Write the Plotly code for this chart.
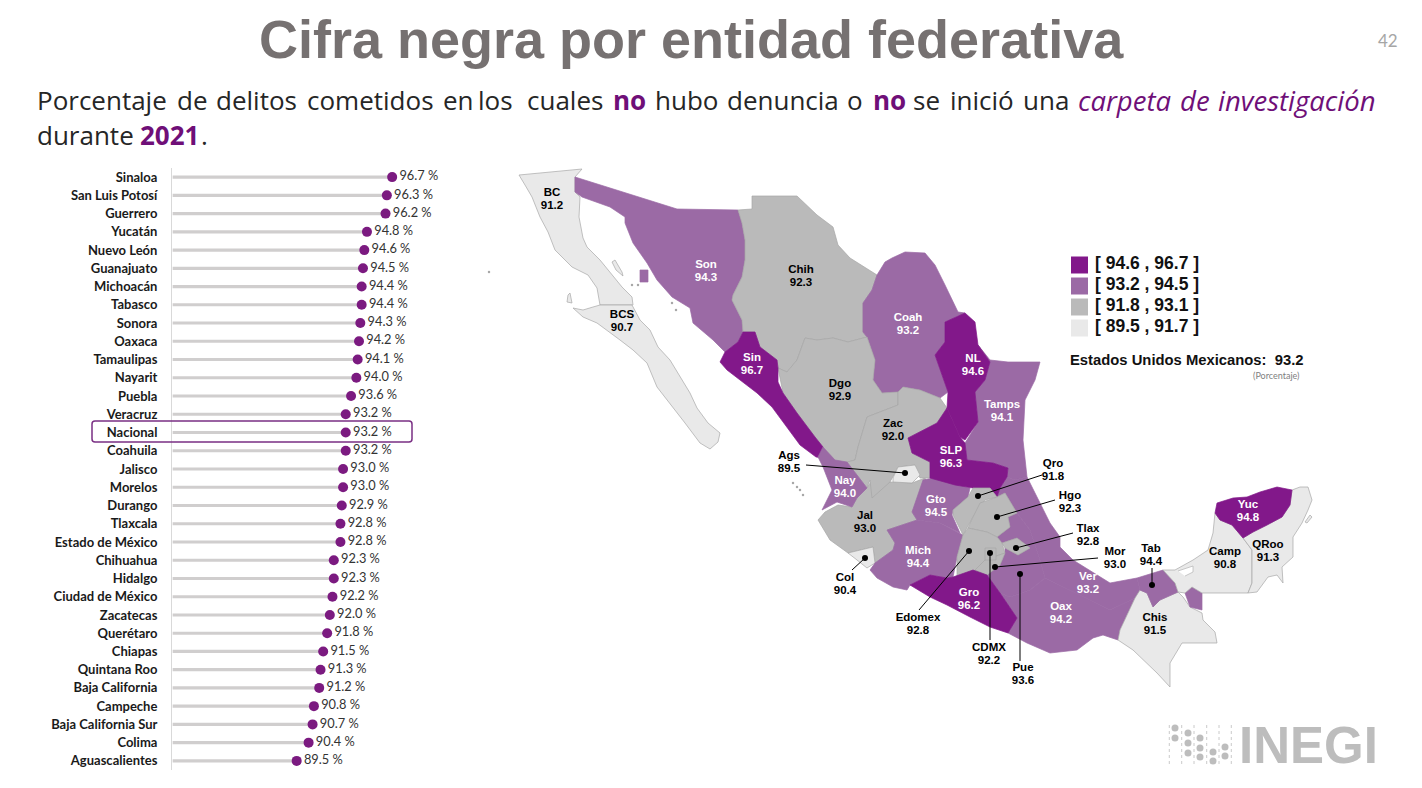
import plotly.graph_objects as go

# Lollipop chart values
ENTIDADES = ['Sinaloa', 'San Luis Potosí', 'Guerrero', 'Yucatán', 'Nuevo León', 'Guanajuato', 'Michoacán',
             'Tabasco', 'Sonora', 'Oaxaca', 'Tamaulipas', 'Nayarit', 'Puebla', 'Veracruz', 'Nacional',
             'Coahuila', 'Jalisco', 'Morelos', 'Durango', 'Tlaxcala', 'Estado de México', 'Chihuahua',
             'Hidalgo', 'Ciudad de México', 'Zacatecas', 'Querétaro', 'Chiapas', 'Quintana Roo',
             'Baja California', 'Campeche', 'Baja California Sur', 'Colima', 'Aguascalientes']
PORCENTAJES = [96.7, 96.3, 96.2, 94.8, 94.6, 94.5, 94.4, 94.4, 94.3, 94.2, 94.1, 94.0, 93.6, 93.2, 93.2,
               93.2, 93.0, 93.0, 92.9, 92.8, 92.8, 92.3, 92.3, 92.2, 92.0, 91.8, 91.5, 91.3, 91.2, 90.8,
               90.7, 90.4, 89.5]

# State outlines
BC = [(519,175),(582,169),(575,177),(575,192),(580,197),(579,217),(583,238),(587,247),(600,260),(612,275),
      (622,287),(632,297),(633,305),(600,305),(597,288),(588,275),(572,267),(555,250),(548,232),(540,217),
      (532,197),(525,185)]
BCS = [(573,308),(583,310),(593,307),(600,305),(632,305),(640,320),(650,330),(658,347),(670,360),(680,377),
       (690,393),(697,408),(708,423),(720,433),(718,442),(710,449),(700,443),(685,423),(673,408),(657,387),
       (647,363),(633,350),(620,340),(610,333),(597,323),(583,317)]
SON = [(575,177),(677,209),(738,210),(742,223),(745,240),(745,260),(742,277),(733,295),(732,300),(742,320),
       (743,332),(738,342),(725,352),(713,340),(693,323),(690,308),(672,297),(657,280),(647,263),(633,243),
       (625,223),(625,217),(610,207),(597,202),(582,197),(575,192)]
CHIH = [(738,210),(752,209),(752,196),(797,196),(817,215),(833,227),(838,245),(850,258),(877,275),(872,290),
        (863,303),(863,332),(867,337),(848,342),(833,338),(817,340),(805,338),(797,360),(787,372),(778,368),
        (777,360),(760,347),(755,332),(743,332),(742,320),(732,300),(733,295),(742,277),(745,260),(745,240),
        (742,223)]
COAH = [(877,275),(885,262),(892,258),(905,252),(925,253),(935,265),(945,285),(958,312),(965,313),(945,322),
        (945,342),(935,355),(948,392),(940,398),(920,390),(903,387),(898,392),(882,393),(873,380),(875,360),
        (867,337),(863,332),(863,303),(872,290)]
SIN = [(725,352),(738,342),(743,332),(755,332),(760,347),(777,360),(778,368),(778,382),(783,393),(797,413),
       (815,437),(823,447),(823,458),(816,457),(800,445),(787,427),(772,407),(757,393),(740,380),(727,370),
       (720,362)]
DGO = [(778,368),(787,372),(797,360),(805,338),(817,340),(833,338),(848,342),(867,337),(875,360),(873,380),
       (882,393),(898,392),(898,405),(867,417),(858,447),(855,460),(838,465),(823,458),(823,447),(815,437),
       (797,413),(783,393)]
ZAC = [(867,417),(898,405),(898,392),(903,387),(920,390),(940,398),(947,408),(937,423),(908,438),(912,453),
       (930,462),(930,478),(920,478),(915,465),(898,467),(890,482),(872,498),(870,480),(867,488),(847,462),
       (855,460),(858,447)]
JAL = [(818,520),(825,512),(838,505),(852,507),(857,498),(867,488),(872,480),(890,482),(912,483),(925,478),
       (927,482),(912,512),(917,520),(887,530),(895,543),(893,550),(875,563),(873,547),(848,553),(830,540)]
NAY = [(818,457),(823,447),(835,460),(847,462),(867,488),(857,498),(852,507),(837,502),(822,510),(832,490),
       (823,467)]
AGS = [(893,478),(898,467),(915,465),(920,475),(912,483),(893,482)]
COL = [(848,553),(873,547),(875,563),(867,568),(857,560)]
MICH = [(887,530),(917,520),(940,523),(960,533),(963,535),(957,557),(953,577),(947,578),(930,575),(910,585),
        (907,590),(893,587),(877,578),(870,570),(875,563),(893,550),(895,543)]
GTO = [(923,480),(933,478),(970,488),(968,497),(953,510),(952,515),(960,533),(940,523),(917,520),(912,512)]
SLP = [(908,438),(937,423),(947,408),(960,437),(965,443),(967,460),(993,463),(1008,468),(1007,477),(1000,488),
       (997,497),(990,488),(973,488),(955,485),(930,478),(930,462),(912,453)]
NL = [(945,322),(965,313),(975,322),(978,345),(990,362),(985,380),(975,392),(978,422),(965,440),(960,437),
      (947,408),(948,392),(935,355),(945,342)]
TAMPS = [(978,345),(990,360),(1008,362),(1040,362),(1035,380),(1025,400),(1023,440),(1027,477),(1015,480),
         (1007,477),(1008,468),(993,463),(967,460),(965,443),(978,422),(975,392),(985,380),(990,362)]
QRO = [(973,488),(990,488),(997,497),(985,500),(973,517),(963,535),(953,515),(953,510),(968,497)]
HGO = [(973,517),(980,503),(997,497),(1005,493),(1017,513),(1008,517),(1010,527),(997,537),(987,532),(968,528)]
MEX = [(963,535),(968,528),(987,532),(997,537),(1002,543),(1005,553),(985,560),(987,575),(957,577),(957,557)]
CDMX = [(985,548),(996,548),(996,560),(985,560)]
MOR = [(985,560),(1005,553),(1000,565),(987,575),(975,570)]
TLAX = [(1002,543),(1017,538),(1030,548),(1018,555),(1005,548)]
GRO = [(910,585),(930,575),(947,578),(953,577),(973,570),(987,575),(1000,593),(1017,618),(1008,633),(990,627),
       (970,617),(947,605),(930,597)]
PUE = [(1008,517),(1017,513),(1030,530),(1040,560),(1045,578),(1030,590),(1010,597),(1000,593),(987,575),
       (1000,565),(1005,553),(1005,548),(1018,555),(1030,548),(1017,538),(1002,543),(997,537),(1010,527)]
OAX = [(1000,593),(1017,618),(1008,633),(1027,643),(1050,653),(1077,650),(1093,638),(1103,635),(1118,640),
       (1120,630),(1135,598),(1110,610),(1090,600),(1070,590),(1045,578),(1030,590),(1010,597)]
VER = [(1007,477),(1015,480),(1027,477),(1037,497),(1050,523),(1060,537),(1060,547),(1073,560),(1093,572),
       (1110,583),(1137,578),(1140,590),(1147,593),(1135,598),(1110,610),(1090,600),(1070,590),(1045,578),
       (1040,560),(1030,530),(1017,513),(1005,493),(997,497),(1000,488)]
TAB = [(1137,578),(1163,570),(1175,583),(1178,592),(1160,600),(1153,607),(1147,593),(1140,590)]
TAB_ESTE = [(1185,593),(1192,587),(1202,593),(1202,610),(1190,607)]
CHIS = [(1135,598),(1140,590),(1147,593),(1153,607),(1160,600),(1178,592),(1183,597),(1190,607),(1202,613),
        (1203,620),(1215,632),(1217,643),(1182,643),(1170,663),(1170,687),(1157,673),(1133,650),(1118,640),
        (1120,630)]
CAMP = [(1163,570),(1175,570),(1193,560),(1208,550),(1213,533),(1215,513),(1220,520),(1232,525),(1243,538),
        (1252,550),(1252,583),(1248,593),(1202,593),(1192,587),(1185,593),(1178,592),(1175,583)]
YUC = [(1217,503),(1233,498),(1247,497),(1260,492),(1277,487),(1292,490),(1290,505),(1282,517),(1267,525),
       (1253,532),(1243,538),(1232,525),(1220,520),(1215,513)]
QROO = [(1292,490),(1300,487),(1308,487),(1312,500),(1308,510),(1302,523),(1293,537),(1293,557),(1282,567),
        (1283,583),(1277,575),(1268,577),(1257,592),(1248,593),(1252,583),(1252,550),(1243,538),(1253,532),
        (1267,525),(1282,517),(1290,505)]

# Islands and small bits
TIBURON = [(640,270),(648,270),(648,282),(640,282)]
COZUMEL = [(1305,522),(1310,515),(1312,517),(1307,523)]
GUARDA = [(612,262),(615,260),(622,272),(623,276),(616,270)]
CEDROS = [(568,295),(570,293),(572,303),(567,302)]
LAGUNA = [(1178,571),(1193,566),(1193,572),(1185,576)]
ISLOTES_X = [489, 793, 797, 800, 803, 632, 638, 672, 676]
ISLOTES_Y = [272, 483, 487, 490, 495, 285, 285, 303, 310]

ESTADOS = [('BC', BC, 91.2), ('BCS', BCS, 90.7), ('Cedros', CEDROS, 91.2), ('Guarda', GUARDA, 91.2),
           ('Son', SON, 94.3), ('Tiburon', TIBURON, 94.3), ('Chih', CHIH, 92.3), ('Coah', COAH, 93.2),
           ('Dgo', DGO, 92.9), ('Jal', JAL, 93.0), ('Zac', ZAC, 92.0), ('Sin', SIN, 96.7), ('Nay', NAY, 94.0),
           ('Ags', AGS, 89.5), ('Col', COL, 90.4), ('Tamps', TAMPS, 94.1), ('NL', NL, 94.6), ('Gto', GTO, 94.5),
           ('Mich', MICH, 94.4), ('Ver', VER, 93.2), ('Pue', PUE, 93.6), ('Oax', OAX, 94.2), ('SLP', SLP, 96.3),
           ('Qro', QRO, 91.8), ('Hgo', HGO, 92.3), ('Edomex', MEX, 92.8), ('Mor', MOR, 93.0), ('CDMX', CDMX, 92.2),
           ('Tlax', TLAX, 92.8), ('Gro', GRO, 96.2), ('Chis', CHIS, 91.5), ('Tab', TAB, 94.4), ('Tab', TAB_ESTE, 94.4),
           ('Camp', CAMP, 90.8), ('QRoo', QROO, 91.3), ('Cozumel', COZUMEL, 91.3), ('Yuc', YUC, 94.8)]

# Map labels: name, value, centre
ETIQUETAS = ['BC', 'BCS', 'Son', 'Chih', 'Coah', 'Sin', 'NL', 'Dgo', 'Tamps', 'Zac', 'SLP', 'Nay', 'Gto', 'Jal',
             'Mich', 'Gro', 'Ags', 'Qro', 'Hgo', 'Tlax', 'Mor', 'Tab', 'Camp', 'QRoo', 'Yuc', 'Chis', 'Ver', 'Oax',
             'Col', 'Edomex', 'CDMX', 'Pue']
VALORES = [91.2, 90.7, 94.3, 92.3, 93.2, 96.7, 94.6, 92.9, 94.1, 92.0, 96.3, 94.0, 94.5, 93.0,
           94.4, 96.2, 89.5, 91.8, 92.3, 92.8, 93.0, 94.4, 90.8, 91.3, 94.8, 91.5, 93.2, 94.2,
           90.4, 92.8, 92.2, 93.6]
ETIQUETA_X = [552, 622, 706, 801, 908, 752, 973, 840, 1002, 893, 951, 845, 936, 865,
              918, 969, 789, 1053, 1070, 1088, 1115, 1151, 1225, 1268, 1248, 1155, 1088, 1061,
              845, 918, 989, 1023]
ETIQUETA_Y = [200, 322, 272, 277, 325, 365, 366, 391, 412, 431, 458, 488, 507, 523,
              558, 600, 463, 471, 503, 536, 559, 556, 559, 552, 512, 625, 584, 614,
              585, 625, 655, 675]
BLANCAS = ['Son', 'Coah', 'Sin', 'NL', 'Tamps', 'SLP', 'Nay', 'Gto', 'Mich', 'Gro', 'Yuc', 'Ver', 'Oax']

# Leader lines, from label to state dot
LIDER_X0 = [806, 852, 919, 990, 1098, 1020, 1042, 1055, 1073, 1152]
LIDER_Y0 = [465, 570, 610, 640, 558, 661, 475, 500, 533, 568]
PUNTO_X = [905, 865, 969, 990, 995, 1020, 978, 997, 1016, 1152]
PUNTO_Y = [473, 558, 551, 553, 567, 574, 496, 517, 548, 585]

# Legend
RANGOS = ['[ 94.6 , 96.7 ]', '[ 93.2 , 94.5 ]', '[ 91.8 , 93.1 ]', '[ 89.5 , 91.7 ]']
COLORES = ['#82188a', '#9b6aa5', '#bababa', '#e9e9e9']
LIMITES = [94.6, 93.2, 91.8, 89.5]

# Subtitle is justified in the slide, so words are placed one by one
LINEA1 = ['Porcentaje', 'de', 'delitos', 'cometidos', 'en', 'los', 'cuales', '<b>no</b>', 'hubo', 'denuncia', 'o',
          '<b>no</b>', 'se', 'inició', 'una', '<i>carpeta</i>', '<i>de</i>', '<i>investigación</i>']
LINEA1_X = [37, 177, 216, 307, 443, 478, 527, 613, 655, 727, 847, 873, 913, 950, 1023, 1078, 1180, 1218]
LINEA2 = ['durante', '<b>2021</b>', '.']
LINEA2_X = [37, 140, 201]

PURPURA = '#7b1a80'
PURPURA_TEXTO = '#6f0f78'
LOGO_GRIS = '#bdbdbd'


def color_de(valor):
    for limite, color in zip(LIMITES, COLORES):
        if valor >= limite:
            return color
    return COLORES[-1]


fig = go.Figure()

# Left panel
fig.add_trace(go.Bar(
    x=[v - 80.15 for v in PORCENTAJES], base=80.15, y=ENTIDADES, orientation='h', width=0.17,
    marker=dict(color='#d0cece', line_width=0), xaxis='x', yaxis='y', hoverinfo='skip'))
fig.add_trace(go.Scatter(
    x=PORCENTAJES, y=ENTIDADES, mode='markers+text',
    text=[f'{v:.1f} %' for v in PORCENTAJES], textposition='middle right',
    textfont=dict(family='Lato', size=12.8, color='#333333'),
    marker=dict(size=10, color=PURPURA), xaxis='x', yaxis='y', cliponaxis=False))

# Map polygons
for nombre, contorno, valor in ESTADOS:
    xs, ys = zip(*contorno)
    color = color_de(valor)
    borde = {'#e9e9e9': '#a8a8a8', '#bababa': '#a6a6a6'}.get(color, color)
    fig.add_trace(go.Scatter(
        x=list(xs) + [xs[0]], y=list(ys) + [ys[0]], mode='lines', fill='toself', fillcolor=color,
        line=dict(color=borde, width=0.7), name=nombre, xaxis='x2', yaxis='y2'))

xs, ys = zip(*LAGUNA)
fig.add_trace(go.Scatter(x=xs, y=ys, mode='lines', fill='toself', fillcolor='white',
                         line=dict(color='#a8a8a8', width=0.6), xaxis='x2', yaxis='y2'))
fig.add_trace(go.Scatter(x=ISLOTES_X, y=ISLOTES_Y, mode='markers', marker=dict(size=2.5, color='#a8a8a8'),
                         xaxis='x2', yaxis='y2'))

# Leader lines
for x0, y0, x1, y1 in zip(LIDER_X0, LIDER_Y0, PUNTO_X, PUNTO_Y):
    fig.add_trace(go.Scatter(x=[x0, x1], y=[y0, y1], mode='lines', line=dict(color='black', width=1),
                             xaxis='x2', yaxis='y2'))
fig.add_trace(go.Scatter(x=PUNTO_X, y=PUNTO_Y, mode='markers', marker=dict(size=6, color='black'),
                         xaxis='x2', yaxis='y2'))

# Map labels, two rows so the line spacing stays tight
colores_etiqueta = ['white' if e in BLANCAS else 'black' for e in ETIQUETAS]
for filas, dy in [(ETIQUETAS, -6.5), ([f'{v:.1f}' for v in VALORES], 6.5)]:
    fig.add_trace(go.Scatter(
        x=ETIQUETA_X, y=[y + dy for y in ETIQUETA_Y], mode='text',
        text=[f'<b>{t}</b>' for t in filas], textposition='middle center',
        textfont=dict(family='Liberation Sans', size=11.5, color=colores_etiqueta),
        xaxis='x2', yaxis='y2'))

# Legend swatches and texts
fig.add_trace(go.Scatter(
    x=[1079.5] * 4, y=[265, 286, 307, 328], mode='markers',
    marker=dict(symbol='square', size=17, color=COLORES), xaxis='x2', yaxis='y2'))
fig.add_trace(go.Scatter(
    x=[1095] * 4, y=[265, 286, 307, 328], mode='text', text=[f'<b>{r}</b>' for r in RANGOS],
    textposition='middle right', textfont=dict(family='Liberation Sans', size=17.5, color='#111111'),
    xaxis='x2', yaxis='y2', cliponaxis=False))

# INEGI logo dots
fig.add_trace(go.Scatter(
    x=[1175, 1175, 1188, 1188, 1188, 1200, 1200, 1200, 1213, 1213, 1225, 1225],
    y=[728, 738, 733, 743, 753, 738, 748, 757, 752, 761, 747, 756],
    mode='markers', marker=dict(size=7, color=LOGO_GRIS), xaxis='x2', yaxis='y2'))
for x_linea in [1169.3, 1181.7, 1194, 1206.7, 1219, 1231.3]:
    fig.add_shape(type='line', xref='x2', yref='y2', x0=x_linea, x1=x_linea, y0=725, y1=765,
                  line=dict(color=LOGO_GRIS, width=0.8, dash='dot'))

# Highlight box around Nacional
fig.add_shape(type='path', xref='x2', yref='y2',
              path='M 95 421 L 409 421 Q 412 421 412 424 L 412 439 Q 412 442 409 442 '
                   'L 95 442 Q 92 442 92 439 L 92 424 Q 92 421 95 421 Z',
              line=dict(color='#7a2f84', width=1.5))


def texto(x, y, s, familia='Open Sans', size=26, color='#262626', anchor='left'):
    # annotations keep a little padding, so shift left aligned text back
    fig.add_annotation(x=x - 2 if anchor == 'left' else x, y=y, xref='x2', yref='y2', text=s, showarrow=False,
                       xanchor=anchor, yanchor='middle', font=dict(family=familia, size=size, color=color))


texto(691, 39, '<b>Cifra negra por entidad federativa</b>', 'Liberation Sans', 54, '#767171', 'center')
texto(1388, 40, '42', 'Lato', 17, '#a6a6a6', 'center')

for palabra, x in zip(LINEA1, LINEA1_X):
    destacada = '<b>' in palabra or '<i>' in palabra
    texto(x, 100, palabra, size=27.5 if '<i>' in palabra else 26,
          color=PURPURA_TEXTO if destacada else '#262626')
for palabra, x in zip(LINEA2, LINEA2_X):
    texto(x, 135, palabra, color=PURPURA_TEXTO if '<b>' in palabra else '#262626')

texto(1070, 360, '<b>Estados Unidos Mexicanos:  93.2</b>', 'Liberation Sans', 14.8, '#111111')
texto(1302, 375, '(Porcentaje)', 'Lato', 9, '#7f7f7f', 'right')
texto(1308, 745, '<b>INEGI</b>', 'Liberation Sans', 51, LOGO_GRIS, 'center')

fig.update_layout(
    width=1422, height=788, margin=dict(l=0, r=0, t=0, b=0),
    paper_bgcolor='white', plot_bgcolor='rgba(0,0,0,0)', showlegend=False,
    xaxis=dict(domain=[172 / 1422, 472 / 1422], range=[80.1, 102.72], visible=False, fixedrange=True),
    yaxis=dict(domain=[1 - 770 / 788, 1 - 168 / 788], type='category', range=[32.5, -0.5], anchor='x',
               categoryorder='array', categoryarray=ENTIDADES, tickmode='array', tickvals=ENTIDADES,
               ticktext=[f'<b>{e}</b>' for e in ENTIDADES], tickfont=dict(family='Lato', size=13, color='#1a1a1a'),
               ticks='outside', ticklen=11, tickcolor='rgba(0,0,0,0)', showline=True, linecolor='#d9d9d9',
               linewidth=1, showgrid=False, zeroline=False, fixedrange=True),
    xaxis2=dict(domain=[0, 1], range=[0, 1422], visible=False, anchor='y2', fixedrange=True),
    yaxis2=dict(domain=[0, 1], range=[788, 0], visible=False, anchor='x2', fixedrange=True),
)

fig.write_html("out.html", post_script="document.body.style.margin='0'", config=dict(displayModeBar=False))
